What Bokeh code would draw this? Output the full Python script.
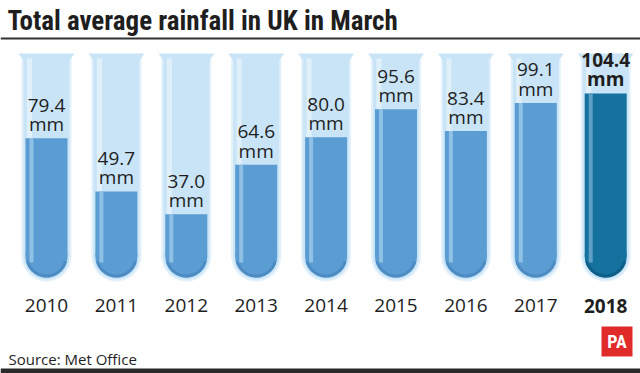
from bokeh.plotting import figure
from bokeh.models import Range1d, Span, Label, ColumnDataSource
from bokeh.embed import file_html
from bokeh.resources import INLINE
from bokeh.core.properties import value
import math

# ---- data ----
years = ["2010", "2011", "2012", "2013", "2014", "2015", "2016", "2017", "2018"]
rain_mm = [79.4, 49.7, 37.0, 64.6, 80.0, 95.6, 83.4, 99.1, 104.4]
highlight_year = "2018"
title_text = "Total average rainfall in UK in March"
source_text = "Source: Met Office"

# ---- layout (pixels of the 640x373 page) ----
W, H = 640, 373
SX = 69.9      # px per tube step
SY = 1.792     # px per mm
X0_REF = 46    # page x of first tube centre
Y0_REF = 280   # page y of 0 mm (tube bottom)

def rx(px):   # page x -> data x
    return (px - X0_REF) / SX

def ry(py):   # page y -> data y (mm)
    return (Y0_REF - py) / SY

def dx(px):   # horizontal pixel length -> data length
    return px / SX

p = figure(width=W, height=H, output_backend="svg", toolbar_location=None,
           x_range=Range1d(rx(0), rx(W)),
           y_range=Range1d(ry(H), ry(0)),
           min_border=0)
p.axis.visible = False
p.grid.visible = False
p.outline_line_color = None
p.background_fill_color = "white"
p.border_fill_color = "white"

xs = list(range(len(years)))
is_hl = [y == highlight_year for y in years]
fill_col = ["#15729f" if h else "#5b9dd2" for h in is_hl]
stripe_col = ["#5e9fc6" if h else "#8fc0e6" for h in is_hl]
shade_col = ["#0d5f88" if h else "#4d8cc3" for h in is_hl]

TUBE_TOP = 58
LIP_TOP = 53
CY = 256  # centre of the rounded bottom (page px)
top_mm = ry(TUBE_TOP)
cy_mm = ry(CY)

# outer glow
p.rect(x=xs, y=[(top_mm + cy_mm) / 2] * len(xs), width=dx(50), height=top_mm - cy_mm,
       fill_color="#e2f1fb", line_color=None)
p.scatter(x=xs, y=[cy_mm] * len(xs), size=50, marker="circle",
          fill_color="#e2f1fb", line_color=None)
# tube glass
p.rect(x=xs, y=[(top_mm + cy_mm) / 2] * len(xs), width=dx(46), height=top_mm - cy_mm,
       fill_color="#c8e4f6", line_color=None)
p.scatter(x=xs, y=[cy_mm] * len(xs), size=46, marker="circle",
          fill_color="#c8e4f6", line_color=None)
# lip
lip_xs = [[x - dx(28), x + dx(28), x + dx(23), x - dx(23)] for x in xs]
lip_ys = [[ry(LIP_TOP), ry(LIP_TOP), ry(TUBE_TOP + 2), ry(TUBE_TOP + 2)] for _ in xs]
p.patches(lip_xs, lip_ys, fill_color="#c8e4f6", line_color=None)
# glass highlight stripe
p.rect(x=[x - dx(17) for x in xs], y=[(top_mm + cy_mm) / 2] * len(xs), width=dx(5),
       height=top_mm - cy_mm, fill_color="#e0f0fb", line_color=None)

# liquid
fill_src = ColumnDataSource(dict(
    x=xs, top=rain_mm, mid=[(v + cy_mm) / 2 for v in rain_mm],
    h=[v - cy_mm for v in rain_mm], col=fill_col, scol=stripe_col, dcol=shade_col,
    sx=[x - dx(15) for x in xs],
    smid=[(v + ry(262)) / 2 for v in rain_mm], sh=[v - ry(262) for v in rain_mm],
    cy=[cy_mm] * len(xs),
))
p.rect(x="x", y="mid", width=dx(42), height="h", fill_color="col", line_color=None, source=fill_src)
p.scatter(x="x", y="cy", size=42, marker="circle", fill_color="col", line_color=None, source=fill_src)
p.annular_wedge(x="x", y="cy", inner_radius=18, outer_radius=21,
                inner_radius_units="screen", outer_radius_units="screen",
                start_angle=math.pi + 0.25, end_angle=2 * math.pi - 0.25,
                fill_color="dcol", line_color=None, source=fill_src)
p.rect(x="sx", y="smid", width=dx(4), height="sh", fill_color="scol", line_color=None, source=fill_src)

# value labels
lab = ["%.1f\nmm" % v for v in rain_mm]
for i, (x, v, t) in enumerate(zip(xs, rain_mm, lab)):
    p.text(x=[x], y=[v], text=[t], text_align="center", text_baseline="bottom",
           y_offset=-1, text_font=value("Open Sans"), text_font_size="19px",
           text_line_height=0.75, text_color="#1e1e1e",
           text_font_style="bold" if is_hl[i] else "normal")

# year labels
for i, (x, yr) in enumerate(zip(xs, years)):
    p.text(x=[x], y=[ry(305)], text=[yr], text_align="center", text_baseline="alphabetic",
           text_font=value("Open Sans"), text_font_size="19px", text_color="#1e1e1e",
           text_font_style="bold" if is_hl[i] else "normal")

# title and rule
p.add_layout(Label(x=rx(7), y=ry(20), text=title_text,
                   text_font="Roboto Condensed, DejaVu Sans Condensed, Roboto",
                   text_font_size="27px", text_font_style="bold", text_color="#1e1e1e",
                   text_baseline="alphabetic"))
p.add_layout(Span(location=ry(38), dimension="width", line_color="#333333", line_width=2))

# source
p.add_layout(Label(x=rx(8), y=ry(358), text=source_text, text_font="Open Sans",
                   text_font_size="15px", text_color="#1e1e1e", text_baseline="alphabetic"))

# PA logo
p.quad(left=[rx(601)], right=[rx(632)], top=[ry(326)], bottom=[ry(356)],
       fill_color="#e12a2a", line_color=None)
p.text(x=[rx(616.5)], y=[ry(341)], text=["PA"], text_align="center", text_baseline="middle",
       text_font=value("Roboto Condensed, DejaVu Sans Condensed, Roboto"), text_font_style="bold",
       text_font_size="18px", text_color="white")

# bottom bar
p.quad(left=[rx(0)], right=[rx(640)], top=[ry(368)], bottom=[ry(373)],
       fill_color="#2a2a2a", line_color=None)

open("out.html", "w").write(file_html(p, INLINE))
